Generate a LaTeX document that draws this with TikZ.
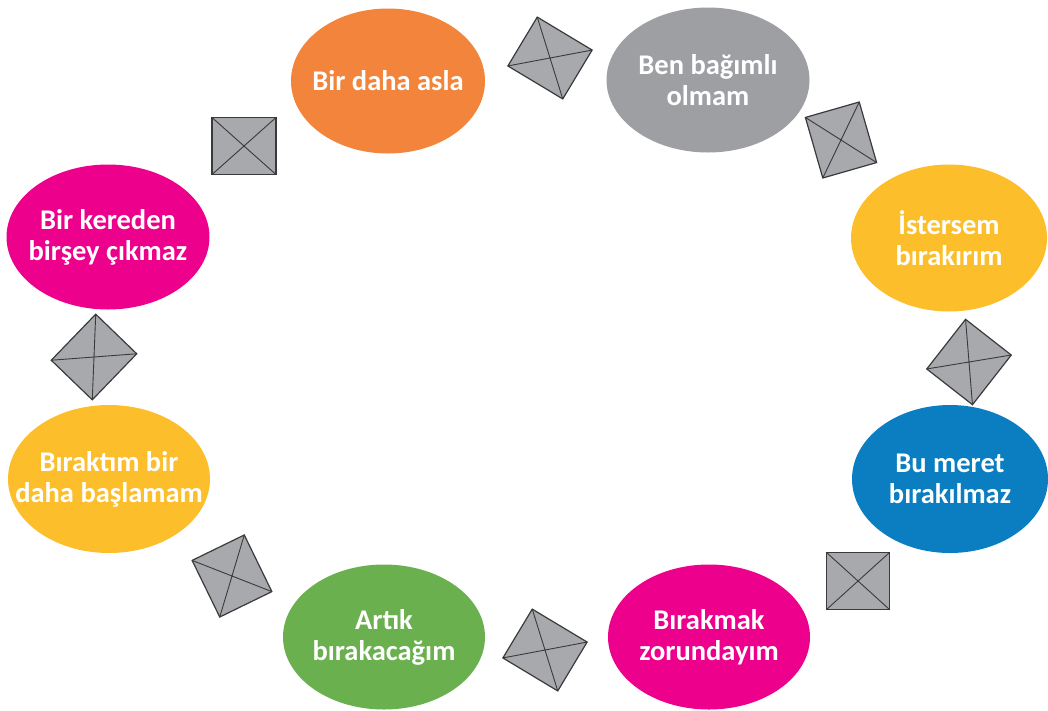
\documentclass[tikz,border=0pt]{standalone}
\usepackage{fontspec}
\setmainfont{Carlito}
\usepackage{tikz}
\usetikzlibrary{shapes.geometric}

\definecolor{cOrange}{HTML}{F2843C}
\definecolor{cGray}{HTML}{9D9FA2}
\definecolor{cYellow}{HTML}{FCBE2A}
\definecolor{cBlue}{HTML}{0B7EC1}
\definecolor{cMagenta}{HTML}{EC008C}
\definecolor{cGreen}{HTML}{6BB04F}
\definecolor{cBox}{HTML}{A7A9AC}
\definecolor{cEdge}{HTML}{3A3A3C}

\begin{document}
\begin{tikzpicture}[x=1pt,y=-1pt,
    bubble/.style={ellipse,inner sep=0pt,minimum width=200pt,minimum height=145pt},
    lbl/.style={text=white,align=center,font=\bfseries\fontsize{28.5}{31}\selectfont},
    cross/.style={rectangle,draw=cEdge,fill=cBox,line width=1.2pt,inner sep=0pt,
        outer sep=0pt,minimum width=64pt,minimum height=57pt},
    diag/.style={draw=cEdge,line width=0.9pt}
  ]
  \useasboundingbox (0,0) rectangle (1048,710);

  % thoughts
  \node[bubble,fill=cOrange,minimum width=194pt] (asla) at (388,81)
    [label={[lbl]center:Bir daha asla}] {};
  \node[bubble,fill=cGray,minimum width=203pt] (bagimli) at (708,80)
    [label={[lbl]center:{Ben bağımlı\\olmam}}] {};
  \node[bubble,fill=cYellow,minimum width=196pt,minimum height=147pt] (istersem) at (949,238)
    [label={[lbl]center:{İstersem\\bırakırım}}] {};
  \node[bubble,fill=cBlue,minimum width=196pt,minimum height=148pt] (meret) at (950,479)
    [label={[lbl]center:{Bu meret\\bırakılmaz}}] {};
  \node[bubble,fill=cMagenta,minimum width=202pt] (zorunda) at (709,637)
    [label={[lbl]center:{Bırakmak\\zorundayım}}] {};
  \node[bubble,fill=cGreen,minimum width=202pt] (artik) at (384,637)
    [label={[lbl]center:{Artık\\bırakacağım}}] {};
  \node[bubble,fill=cYellow,minimum width=202pt,minimum height=148pt] (biraktim) at (109,479)
    [label={[lbl]center:{Bıraktım bir\\daha başlamam}}] {};
  \node[bubble,fill=cMagenta,minimum width=203pt] (kereden) at (108,237)
    [label={[lbl]center:{Bir kereden\\birşey çıkmaz}}] {};

  % boxes in between
  \node[cross,rotate=-31] (b1) at (550,58) {};
  \node[cross,rotate=16,minimum width=56pt,minimum height=63pt] (b2) at (841,140) {};
  \node[cross,rotate=-38,minimum width=58pt,minimum height=63pt] (b3) at (969,362) {};
  \node[cross,minimum width=63pt] (b4) at (858,581) {};
  \node[cross,rotate=-31] (b5) at (545,650) {};
  \node[cross,rotate=26,minimum width=58pt,minimum height=63pt] (b6) at (232,576) {};
  \node[cross,rotate=-44,minimum width=57pt,minimum height=64pt] (b7) at (94,357) {};
  \node[cross] (b8) at (244,146) {};

  \foreach \b in {b1,b2,b3,b4,b5,b6,b7,b8}
    \path[diag] (\b.north west) -- (\b.south east)
                (\b.north east) -- (\b.south west);
\end{tikzpicture}
\end{document}
